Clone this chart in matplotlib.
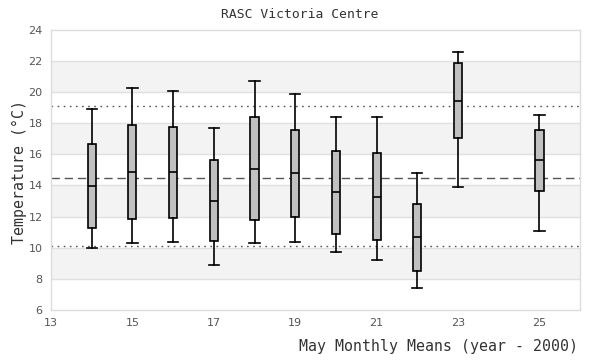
import matplotlib
matplotlib.use("Agg")
import matplotlib.pyplot as plt

years = [14, 15, 16, 17, 18, 19, 20, 21, 22, 23, 25]
whislo = [9.96, 10.29, 10.35, 8.87, 10.29, 10.35, 9.71, 9.19, 7.39, 13.91, 11.06]
q1 = [11.25, 11.83, 11.89, 10.41, 11.76, 11.96, 10.86, 10.48, 8.49, 17.04, 13.65]
med = [13.97, 14.85, 14.85, 12.99, 15.04, 14.79, 13.56, 13.24, 10.67, 19.41, 15.62]
q3 = [16.65, 17.87, 17.74, 15.62, 18.39, 17.55, 16.24, 16.07, 12.84, 21.86, 17.59]
whishi = [18.9, 20.25, 20.06, 17.68, 20.7, 19.86, 18.39, 18.39, 14.79, 22.56, 18.56]
mean_line = 14.46
upper_line = 19.09
lower_line = 10.09

fig = plt.figure(figsize=(6, 3.6), dpi=100)
ax = fig.add_axes([0.085, 0.139, 0.882, 0.778])

ax.set_xlim(13, 26)
ax.set_ylim(6, 24)

# alternating bands
for lo in [8, 12, 16, 20]:
    ax.axhspan(lo, lo + 2, color="#f3f3f3", zorder=0, lw=0)
for y in range(8, 24, 2):
    ax.axhline(y, color="#e0e0e0", lw=1, zorder=0.5)

ax.axhline(mean_line, color="#555555", lw=1, ls=(0, (6, 3.5)), zorder=1)
ax.axhline(upper_line, color="#555555", lw=1, ls=(0, (1.2, 3.2)), zorder=1)
ax.axhline(lower_line, color="#555555", lw=1, ls=(0, (1.2, 3.2)), zorder=1)

stats = []
for i in range(len(years)):
    stats.append(dict(whislo=whislo[i], q1=q1[i], med=med[i], q3=q3[i],
                      whishi=whishi[i], fliers=[]))
ax.bxp(stats, positions=years, widths=0.2, patch_artist=True, showfliers=False,
       manage_ticks=False,
       boxprops=dict(facecolor="#c0c0c0", edgecolor="black", lw=1.2),
       medianprops=dict(color="black", lw=1.2),
       whiskerprops=dict(color="black", lw=1.2),
       capprops=dict(color="black", lw=1.2), capwidths=0.25, zorder=3)

ax.set_xticks(range(13, 26, 2))
ax.set_yticks(range(6, 25, 2))
ax.tick_params(length=0, labelsize=8, labelcolor="#555555", pad=6)
for s in ax.spines.values():
    s.set_color("#dddddd")
    s.set_linewidth(1)

mono = "DejaVu Sans Mono"
fig.text(0.5, 1 - 15 / 360, "RASC Victoria Centre", ha="center", va="center",
         family=mono, fontsize=9.4, color="#333333")
fig.text(578 / 600, 1 - 347 / 360, "May Monthly Means (year - 2000)",
         ha="right", va="center", family=mono, fontsize=10.7, color="#333333")
fig.text(19 / 600, 0.5 + (0.139 + 0.917) / 2 - 0.5 - 2 / 360, "Temperature (°C)",
         ha="center", va="center", rotation=90, family=mono, fontsize=10.7,
         color="#333333")

fig.savefig("out.png", dpi=100)
